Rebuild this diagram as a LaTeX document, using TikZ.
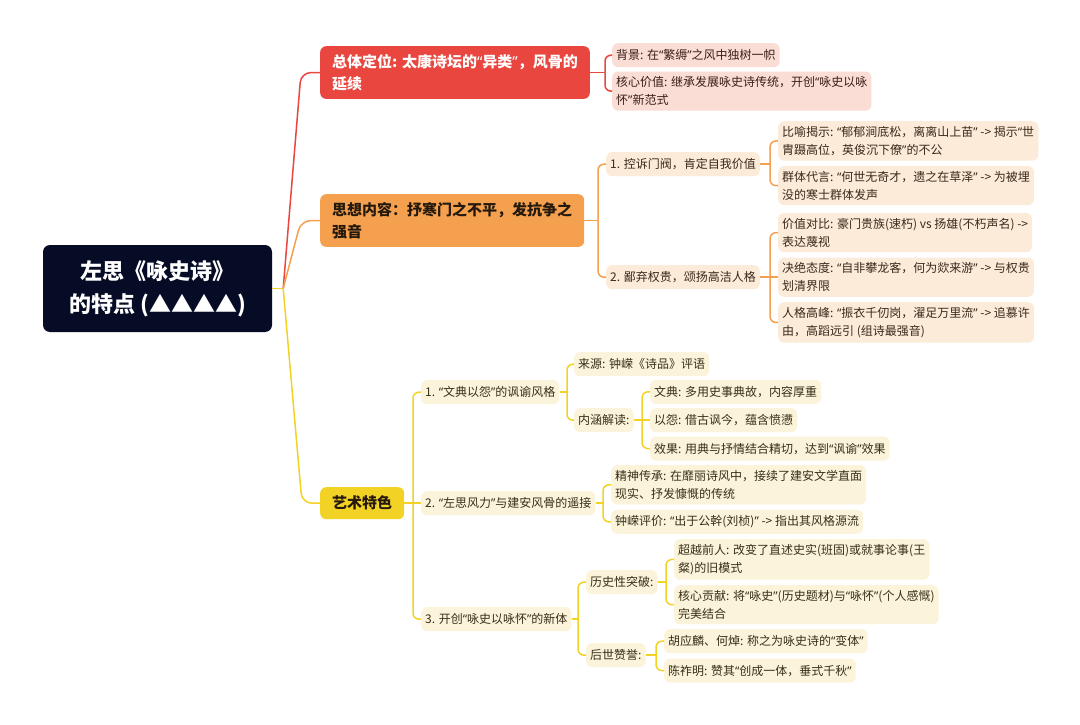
\documentclass[tikz,border=0pt]{standalone}
\usepackage{fontspec}
\setmainfont{Noto Sans CJK SC}
\newfontfamily\latinfont{Noto Sans}
\usepackage{xcolor}
\usepackage{tikz}
\usetikzlibrary{positioning, calc}
\definecolor{rootnavy}{HTML}{070C26}
\definecolor{redmain}{HTML}{E8463E}
\definecolor{redsoft}{HTML}{FADDD4}
\definecolor{redink}{HTML}{3A1E18}
\definecolor{orangemain}{HTML}{F5A04E}
\definecolor{orangesoft}{HTML}{FDEBDA}
\definecolor{orangeink}{HTML}{3A2818}
\definecolor{yellowmain}{HTML}{F3D226}
\definecolor{yellowsoft}{HTML}{FBF4DA}
\definecolor{yellowink}{HTML}{383016}
\definecolor{darkink}{HTML}{24190C}
\newcommand{\qopen}{{\latinfont “}}
\newcommand{\qclose}{{\latinfont ”}}
\tikzstyle{rootnode} = [rectangle, rounded corners=7pt, fill=rootnavy, text=white, minimum width=229pt, minimum height=87pt, align=center, font=\bfseries\fontsize{22}{33}\selectfont]
\tikzstyle{mainnode} = [rectangle, rounded corners=6pt, inner xsep=12pt, inner ysep=8pt, anchor=north west, align=left, font=\bfseries\fontsize{15}{22}\selectfont]
\tikzstyle{leafnode} = [rectangle, rounded corners=6pt, inner xsep=4pt, inner ysep=5pt, minimum height=24pt, anchor=north west, align=left, font=\fontsize{12}{18}\selectfont]
\tikzstyle{redleaf} = [leafnode, fill=redsoft, text=redink]
\tikzstyle{orangeleaf} = [leafnode, fill=orangesoft, text=orangeink]
\tikzstyle{yellowleaf} = [leafnode, fill=yellowsoft, text=yellowink]
\tikzstyle{redln} = [line width=1.5pt, color=redmain, rounded corners=6pt]
\tikzstyle{orangeln} = [line width=1.5pt, color=orangemain, rounded corners=6pt]
\tikzstyle{yellowln} = [line width=1.5pt, color=yellowmain, rounded corners=6pt]

\begin{document}
\begin{tikzpicture}[x=1pt, y=-1pt]
    \fill [white] (0,0) rectangle (1080,725);
    \useasboundingbox (0,0) rectangle (1080,725);

    % root
    \node (root) [rootnode] at (157.5,288.5) {左思《咏史诗》\\的特点 (▲▲▲▲)};

    % red branch
    \node (zt) [mainnode, fill=redmain, text=white] at (320,46) {总体定位: 太康诗坛的\qopen 异类\qclose ，风骨的\\延续};
    \node (bj) [redleaf] at (612,43) {背景: 在\qopen 繁缛\qclose 之风中独树一帜};
    \node (hx) [redleaf, below=4pt of bj.south west, anchor=north west] {核心价值: 继承发展咏史诗传统，开创\qopen 咏史以咏\\怀\qclose 新范式};

    % orange branch
    \node (sx) [mainnode, fill=orangemain, text=darkink] at (320,194) {思想内容：抒寒门之不平，发抗争之\\强音};
    \node (ks) [orangeleaf] at (606,152) {1. 控诉门阀，肯定自我价值};
    \node (bq) [orangeleaf] at (606,265) {2. 鄙弃权贵，颂扬高洁人格};
    \node (by) [orangeleaf] at (778,121) {比喻揭示: \qopen 郁郁涧底松，离离山上苗\qclose{} -> 揭示\qopen 世\\胄蹑高位，英俊沉下僚\qclose 的不公};
    \node (qt) [orangeleaf, below=5pt of by.south west, anchor=north west] {群体代言: \qopen 何世无奇才，遗之在草泽\qclose{} -> 为被埋\\没的寒士群体发声};
    \node (jj) [orangeleaf, anchor=west] at ($(bq.west)+(172,0)$) {决绝态度: \qopen 自非攀龙客，何为欻来游\qclose{} -> 与权贵\\划清界限};
    \node (jz) [orangeleaf, above=5pt of jj.north west, anchor=south west] {价值对比: 豪门贵族(速朽) vs 扬雄(不朽声名) ->\\表达蔑视};
    \node (rg) [orangeleaf, below=5pt of jj.south west, anchor=north west] {人格高峰: \qopen 振衣千仞岗，濯足万里流\qclose{} -> 追慕许\\由，高蹈远引 (组诗最强音)};

    % yellow branch
    \node (ys) [mainnode, fill=yellowmain, text=darkink, minimum height=32pt] at (320,487) {艺术特色};
    \node (wd) [yellowleaf] at (421,380) {1. \qopen 文典以怨\qclose 的讽谕风格};
    \node (zf) [yellowleaf, anchor=west] at ($(ys.west)+(101,0)$) {2. \qopen 左思风力\qclose 与建安风骨的遥接};
    \node (kc) [yellowleaf] at (421,607) {3. 开创\qopen 咏史以咏怀\qclose 的新体};
    \node (ly) [yellowleaf] at (574,352) {来源: 钟嵘《诗品》评语};
    \node (nh) [yellowleaf] at (574,408) {内涵解读:};
    \node (yy) [yellowleaf, anchor=west] at ($(nh.west)+(76,0)$) {以怨: 借古讽今，蕴含愤懑};
    \node (wdn) [yellowleaf, above=4pt of yy.north west, anchor=south west] {文典: 多用史事典故，内容厚重};
    \node (xg) [yellowleaf, below=4pt of yy.south west, anchor=north west] {效果: 用典与抒情结合精切，达到\qopen 讽谕\qclose 效果};
    \node (js) [yellowleaf] at (611,465) {精神传承: 在靡丽诗风中，接续了建安文学直面\\现实、抒发慷慨的传统};
    \node (zp) [yellowleaf, below=5pt of js.south west, anchor=north west] {钟嵘评价: \qopen 出于公幹(刘桢)\qclose{} -> 指出其风格源流};
    \node (lt) [yellowleaf] at (586,570) {历史性突破:};
    \node (hs) [yellowleaf] at (586,643) {后世赞誉:};
    \node (cy) [yellowleaf] at (674,539) {超越前人: 改变了直述史实(班固)或就事论事(王\\粲)的旧模式};
    \node (gx) [yellowleaf, below=5pt of cy.south west, anchor=north west] {核心贡献: 将\qopen 咏史\qclose (历史题材)与\qopen 咏怀\qclose (个人感慨)\\完美结合};
    \node (hy) [yellowleaf] at (664,629) {胡应麟、何焯: 称之为咏史诗的\qopen 变体\qclose};
    \node (cz) [yellowleaf, below=5pt of hy.south west, anchor=north west] {陈祚明: 赞其\qopen 创成一体，垂式千秋\qclose};

    % root to branches
    \coordinate (hub) at ($(root.east)+(11,0)$);
    \draw [yellowln] (root.east) -- (hub);
    \draw [redln, rounded corners=10pt] (hub) -- ($(zt.west)+(-19,0)$) -- (zt.west);
    \draw [orangeln, rounded corners=10pt] (hub) -- ($(sx.west)+(-19,0)$) -- (sx.west);
    \draw [yellowln, rounded corners=10pt] (hub) -- ($(ys.west)+(-18,0)$) -- (ys.west);

    % red forks
    \coordinate (fzt) at ($(zt.east -| bj.west)+(-7,0)$);
    \draw [redln] (zt.east) -- (fzt);
    \draw [redln] (fzt) |- (bj.west);
    \draw [redln] (fzt) |- (hx.west);

    % orange forks
    \coordinate (fsx) at ($(sx.east -| ks.west)+(-8,0)$);
    \draw [orangeln] (sx.east) -- (fsx);
    \draw [orangeln] (fsx) |- (ks.west);
    \draw [orangeln] (fsx) |- (bq.west);
    \coordinate (fks) at ($(ks.east -| by.west)+(-8,0)$);
    \draw [orangeln] (ks.east) -- (fks);
    \draw [orangeln] (fks) |- (by.west);
    \draw [orangeln] (fks) |- (qt.west);
    \coordinate (fbq) at ($(bq.east -| jj.west)+(-8,0)$);
    \draw [orangeln] (bq.east) -- (fbq);
    \draw [orangeln] (fbq) |- (jz.west);
    \draw [orangeln] (fbq) -- (jj.west);
    \draw [orangeln] (fbq) |- (rg.west);

    % yellow forks
    \coordinate (fys) at ($(ys.east -| wd.west)+(-8,0)$);
    \draw [yellowln] (ys.east) -- (fys);
    \draw [yellowln] (fys) |- (wd.west);
    \draw [yellowln] (fys) -- (zf.west);
    \draw [yellowln] (fys) |- (kc.west);
    \coordinate (fwd) at ($(wd.east -| ly.west)+(-7,0)$);
    \draw [yellowln] (wd.east) -- (fwd);
    \draw [yellowln] (fwd) |- (ly.west);
    \draw [yellowln] (fwd) |- (nh.west);
    \coordinate (fnh) at ($(nh.east -| yy.west)+(-8,0)$);
    \draw [yellowln] (nh.east) -- (fnh);
    \draw [yellowln] (fnh) |- (wdn.west);
    \draw [yellowln] (fnh) -- (yy.west);
    \draw [yellowln] (fnh) |- (xg.west);
    \coordinate (fzf) at ($(zf.east -| js.west)+(-8,0)$);
    \draw [yellowln] (zf.east) -- (fzf);
    \draw [yellowln] (fzf) |- (js.west);
    \draw [yellowln] (fzf) |- (zp.west);
    \coordinate (fkc) at ($(kc.east -| lt.west)+(-8,0)$);
    \draw [yellowln] (kc.east) -- (fkc);
    \draw [yellowln] (fkc) |- (lt.west);
    \draw [yellowln] (fkc) |- (hs.west);
    \coordinate (flt) at ($(lt.east -| cy.west)+(-8,0)$);
    \draw [yellowln] (lt.east) -- (flt);
    \draw [yellowln] (flt) |- (cy.west);
    \draw [yellowln] (flt) |- (gx.west);
    \coordinate (fhs) at ($(hs.east -| hy.west)+(-8,0)$);
    \draw [yellowln] (hs.east) -- (fhs);
    \draw [yellowln] (fhs) |- (hy.west);
    \draw [yellowln] (fhs) |- (cz.west);
\end{tikzpicture}
\end{document}
